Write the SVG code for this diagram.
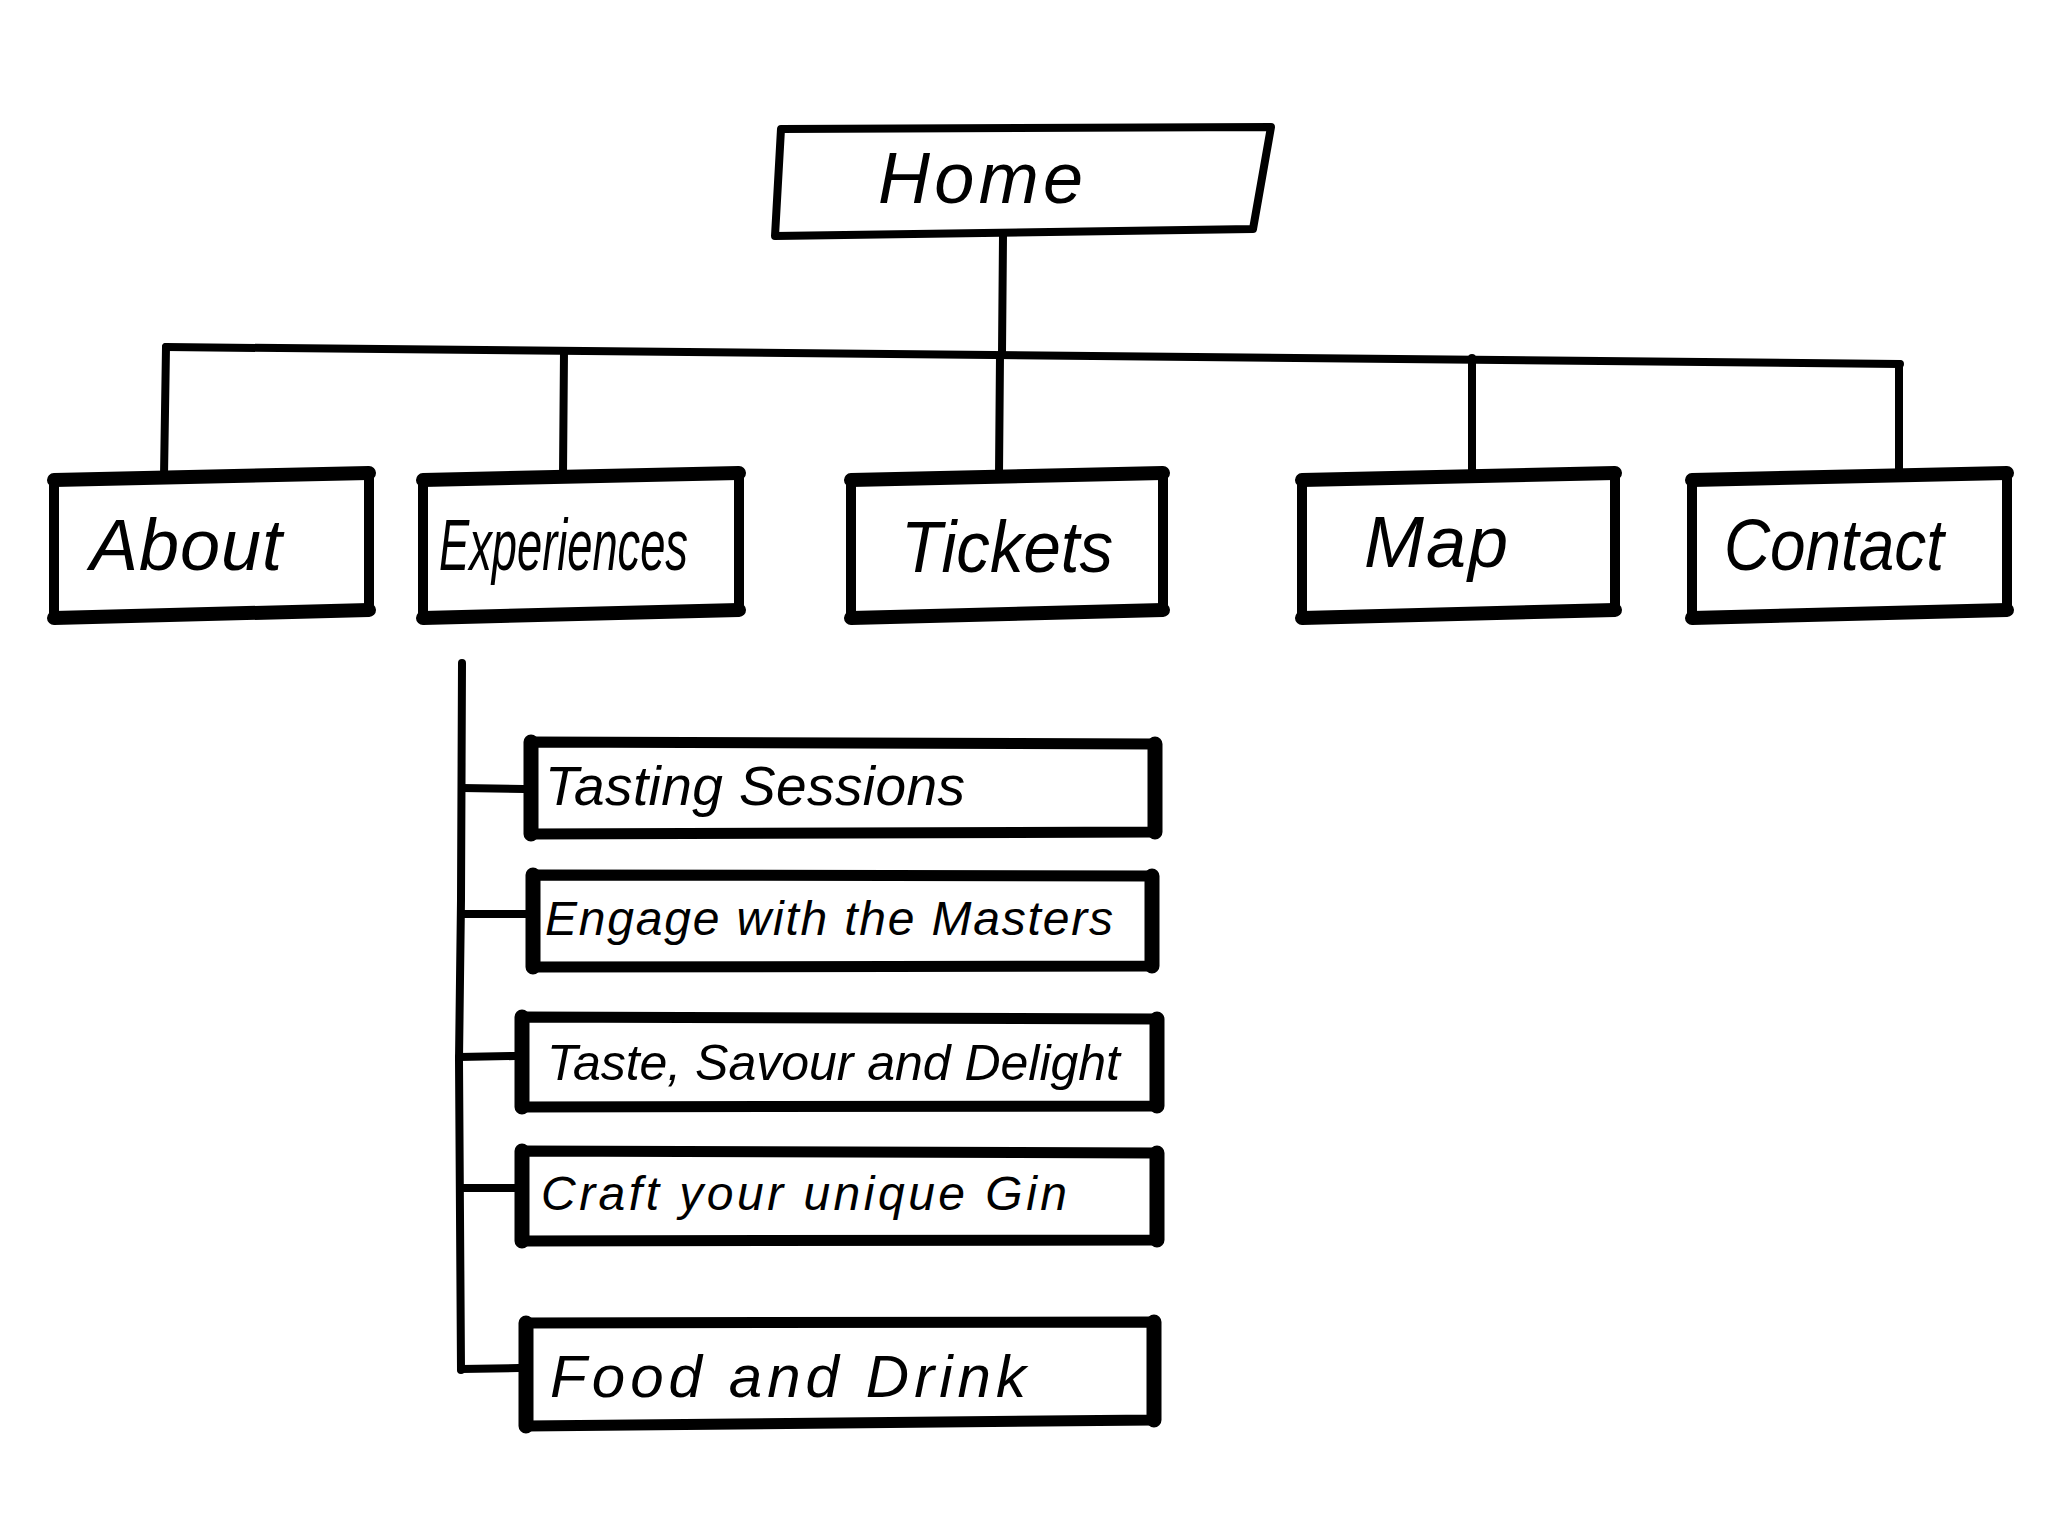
<svg xmlns="http://www.w3.org/2000/svg" width="2048" height="1536" viewBox="0 0 2048 1536">
<style>
.bg{fill:#ffffff}
.box{fill:#ffffff;stroke:#000;stroke-width:10;stroke-linejoin:round;stroke-linecap:round}
.home{fill:#ffffff;stroke:#000;stroke-width:8;stroke-linejoin:round}
.edgeH{fill:none;stroke:#000;stroke-width:14;stroke-linecap:round}
.edgeV{fill:none;stroke:#000;stroke-width:15;stroke-linecap:round}
.sub{fill:#ffffff;stroke:#000;stroke-width:11;stroke-linejoin:round}
.conn{fill:none;stroke:#000;stroke-width:8;stroke-linecap:round}
.t{font-family:"Liberation Sans","DejaVu Sans",sans-serif;font-style:italic;fill:#000}
</style>
<rect class="bg" x="0" y="0" width="2048" height="1536"/>
<g id="connectors">
<line class="conn" x1="1003" y1="236" x2="1002" y2="353"/>
<line class="conn" x1="166" y1="347" x2="1900" y2="364"/>
<line class="conn" x1="166" y1="347" x2="164" y2="476"/>
<line class="conn" x1="564" y1="351" x2="563" y2="474"/>
<line class="conn" x1="1000" y1="355" x2="999" y2="474"/>
<line class="conn" x1="1472" y1="358" x2="1472" y2="470"/>
<line class="conn" x1="1899" y1="364" x2="1899" y2="470"/>
<path class="conn" d="M462,663 L461,900 L459,1060 L461,1370"/>
<line class="conn" x1="462" y1="788" x2="524" y2="789"/>
<line class="conn" x1="461" y1="914" x2="526" y2="914"/>
<line class="conn" x1="459" y1="1057" x2="515" y2="1056"/>
<line class="conn" x1="460" y1="1188" x2="515" y2="1188"/>
<line class="conn" x1="461" y1="1369" x2="519" y2="1368"/>
</g>
<g id="home">
<path class="home" d="M781,129 L1271,127 L1253,229 L775,236 Z"/>
<text class="t" x="878" y="203" font-size="72" textLength="205" lengthAdjust="spacing">Home</text>
</g>
<g id="about">
<path class="box" d="M54,480 L369,473 L369,610 L54,618 Z"/>
<path class="edgeH" d="M54,480 L369,473 M54,618 L369,610"/>
<text class="t" x="90" y="570" font-size="72" textLength="192" lengthAdjust="spacing">About</text>
</g>
<g id="experiences">
<path class="box" d="M423,480 L739,473 L739,610 L423,618 Z"/>
<path class="edgeH" d="M423,480 L739,473 M423,618 L739,610"/>
<text class="t" x="439" y="570" font-size="72" textLength="249" lengthAdjust="spacingAndGlyphs">Experiences</text>
</g>
<g id="tickets">
<path class="box" d="M851,480 L1163,473 L1163,610 L851,618 Z"/>
<path class="edgeH" d="M851,480 L1163,473 M851,618 L1163,610"/>
<text class="t" x="901" y="572" font-size="72" textLength="212" lengthAdjust="spacingAndGlyphs">Tickets</text>
</g>
<g id="map">
<path class="box" d="M1302,480 L1615,473 L1615,610 L1302,618 Z"/>
<path class="edgeH" d="M1302,480 L1615,473 M1302,618 L1615,610"/>
<text class="t" x="1364" y="567" font-size="72" textLength="144" lengthAdjust="spacing">Map</text>
</g>
<g id="contact">
<path class="box" d="M1692,480 L2007,473 L2007,610 L1692,618 Z"/>
<path class="edgeH" d="M1692,480 L2007,473 M1692,618 L2007,610"/>
<text class="t" x="1724" y="570" font-size="72" textLength="220" lengthAdjust="spacingAndGlyphs">Contact</text>
</g>
<g id="tasting-sessions">
<path class="sub" d="M531,742 L1155,744 L1155,832 L531,834 Z"/>
<path class="edgeV" d="M531,742 L531,834 M1155,744 L1155,832"/>
<text class="t" x="545" y="805" font-size="55" textLength="420" lengthAdjust="spacing">Tasting Sessions</text>
</g>
<g id="engage-with-the-masters">
<path class="sub" d="M533,875 L1152,876 L1152,966 L533,967 Z"/>
<path class="edgeV" d="M533,875 L533,967 M1152,876 L1152,966"/>
<text class="t" x="545" y="935" font-size="48" textLength="568" lengthAdjust="spacing">Engage with the Masters</text>
</g>
<g id="taste-savour-and-delight">
<path class="sub" d="M522,1017 L1157,1019 L1157,1106 L522,1107 Z"/>
<path class="edgeV" d="M522,1017 L522,1107 M1157,1019 L1157,1106"/>
<text class="t" x="547" y="1080" font-size="50" textLength="573" lengthAdjust="spacing">Taste, Savour and Delight</text>
</g>
<g id="craft-your-unique-gin">
<path class="sub" d="M522,1151 L1157,1153 L1157,1240 L522,1241 Z"/>
<path class="edgeV" d="M522,1151 L522,1241 M1157,1153 L1157,1240"/>
<text class="t" x="541" y="1210" font-size="48" textLength="526" lengthAdjust="spacing">Craft your unique Gin</text>
</g>
<g id="food-and-drink">
<path class="sub" d="M526,1323 L1154,1322 L1154,1420 L526,1426 Z"/>
<path class="edgeV" d="M526,1323 L526,1426 M1154,1322 L1154,1420"/>
<text class="t" x="550" y="1397" font-size="60" textLength="476" lengthAdjust="spacing">Food and Drink</text>
</g>
</svg>
